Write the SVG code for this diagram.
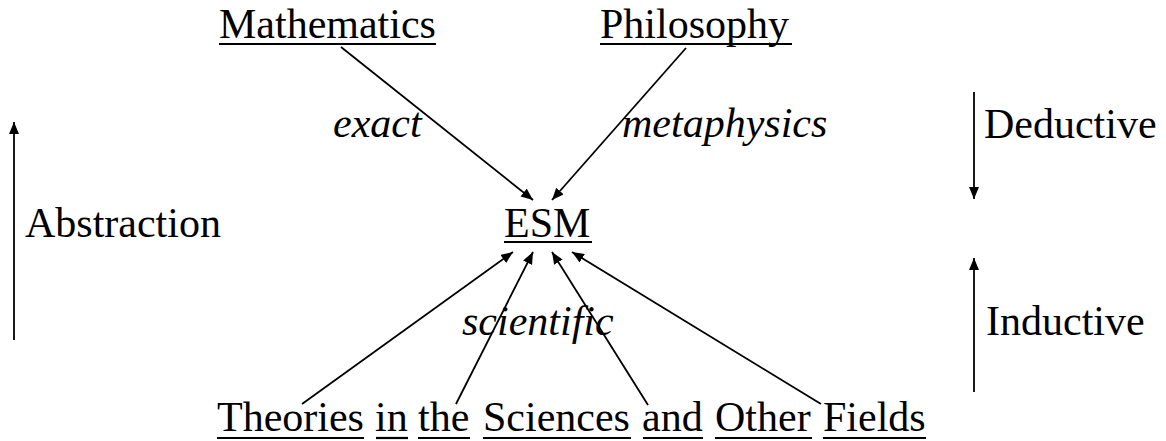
<svg xmlns="http://www.w3.org/2000/svg" width="1166" height="441" viewBox="0 0 1166 441">
<style>
  text { font-family: "Liberation Serif", "Times New Roman", "DejaVu Serif", serif; font-size: 42px; fill: #000; }
  .it { font-style: italic; }
  .ul { stroke: #000; stroke-width: 2.2; }
  .edge { stroke: #000; stroke-width: 1.8; fill: none; marker-end: url(#ah); }
</style>
<defs>
  <marker id="ah" markerUnits="userSpaceOnUse" markerWidth="14" markerHeight="12" refX="12" refY="5" orient="auto">
    <path d="M0,0 L12,5 L0,10 z" fill="#000"/>
  </marker>
</defs>
<rect width="1166" height="441" fill="#fff"/>

<g id="mathematics">
  <text x="219" y="38">Mathematics</text>
  <line class="ul" x1="219" y1="44" x2="436" y2="44"/>
</g>
<g id="philosophy">
  <text x="600" y="38">Philosophy</text>
  <line class="ul" x1="600" y1="44" x2="792" y2="44"/>
</g>
<g id="esm">
  <text x="504" y="237">ESM</text>
  <line class="ul" x1="504" y1="242" x2="592" y2="242"/>
</g>
<g id="sources">
  <text x="217" y="431">Theories</text>
  <line class="ul" x1="217" y1="438" x2="364" y2="438"/>
  <text x="375" y="431">in</text>
  <line class="ul" x1="376" y1="438" x2="408" y2="438"/>
  <text x="418" y="431">the</text>
  <line class="ul" x1="418" y1="438" x2="470" y2="438"/>
  <text x="483" y="431">Sciences</text>
  <line class="ul" x1="483" y1="438" x2="631" y2="438"/>
  <text x="642" y="431">and</text>
  <line class="ul" x1="643" y1="438" x2="703" y2="438"/>
  <text x="715" y="431">Other</text>
  <line class="ul" x1="715" y1="438" x2="812" y2="438"/>
  <text x="823" y="431">Fields</text>
  <line class="ul" x1="823" y1="438" x2="926" y2="438"/>
</g>

<g id="connectors">
  <line class="edge" x1="341" y1="47" x2="533" y2="200"/>
  <line class="edge" x1="686" y1="48" x2="552" y2="200"/>
  <line class="edge" x1="302" y1="404" x2="513" y2="252"/>
  <line class="edge" x1="456" y1="404" x2="533" y2="252"/>
  <line class="edge" x1="648" y1="405" x2="552" y2="252"/>
  <line class="edge" x1="821" y1="404" x2="572" y2="252"/>
  <line class="edge" x1="14" y1="340" x2="14" y2="122"/>
  <line class="edge" x1="974" y1="92" x2="974" y2="199"/>
  <line class="edge" x1="974" y1="392" x2="974" y2="258"/>
</g>

<g id="labels">
  <text class="it" x="333" y="137">exact</text>
  <text class="it" x="622" y="137">metaphysics</text>
  <text class="it" x="462" y="335">scientific</text>
  <text x="25" y="237">Abstraction</text>
  <text x="984" y="138">Deductive</text>
  <text x="986" y="335">Inductive</text>
</g>
</svg>
